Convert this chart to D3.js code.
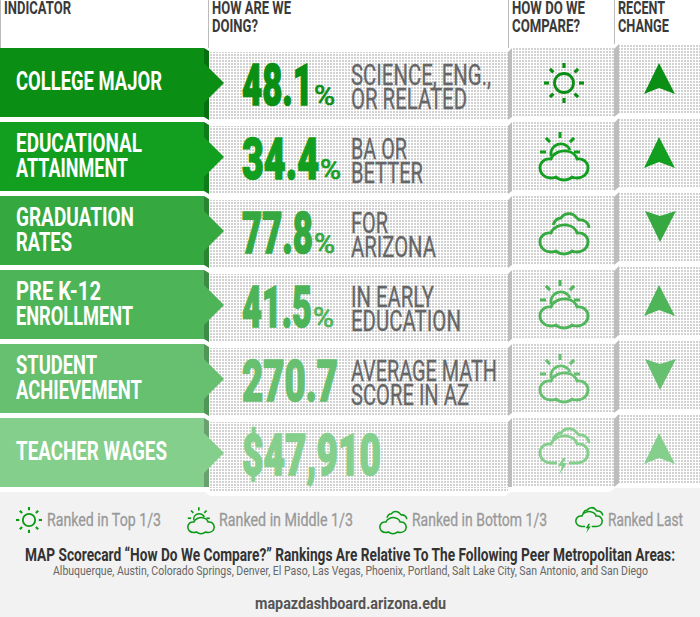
<!DOCTYPE html>
<html>
<head>
<meta charset="utf-8">
<script src="https://cdnjs.cloudflare.com/ajax/libs/d3/7.8.5/d3.min.js"></script>
<style>
  html, body { margin: 0; padding: 0; background: #fff; }
  svg { display: block; }
  text { font-family: "Liberation Sans Narrow", "Roboto", sans-serif; }
</style>
</head>
<body>
<div id="chart"></div>
<script>
// chart values
var indicators = ["College Major", "Educational Attainment", "Graduation Rates", "Pre K-12 Enrollment", "Student Achievement", "Teacher Wages"];
var indicatorLines = [["COLLEGE MAJOR"], ["EDUCATIONAL", "ATTAINMENT"], ["GRADUATION", "RATES"], ["PRE K-12", "ENROLLMENT"], ["STUDENT", "ACHIEVEMENT"], ["TEACHER WAGES"]];
var valueLabels = ["48.1", "34.4", "77.8", "41.5", "270.7", "$47,910"];
var valueUnits = ["%", "%", "%", "%", "", ""];
var descriptions = [["SCIENCE, ENG.,", "OR RELATED"], ["BA OR", "BETTER"], ["FOR", "ARIZONA"], ["IN EARLY", "EDUCATION"], ["AVERAGE MATH", "SCORE IN AZ"], []];
var ranks = ["top", "middle", "bottom", "middle", "middle", "last"];
var trends = ["up", "up", "down", "up", "down", "up"];
var headers = [["INDICATOR"], ["HOW ARE WE", "DOING?"], ["HOW DO WE", "COMPARE?"], ["RECENT", "CHANGE"]];
var legendRanks = ["top", "middle", "bottom", "last"];
var legendLabels = ["Ranked in Top 1/3", "Ranked in Middle 1/3", "Ranked in Bottom 1/3", "Ranked Last"];
var footTitle = "MAP Scorecard \u201cHow Do We Compare?\u201d Rankings Are Relative To The Following Peer Metropolitan Areas:";
var footCities = "Albuquerque, Austin, Colorado Springs, Denver, El Paso, Las Vegas, Phoenix, Portland, Salt Lake City, San Antonio, and San Diego";
var footUrl = "mapazdashboard.arizona.edu";

// widths the condensed original font gives each string
var textWidth = {
  "COLLEGE MAJOR": 146, "EDUCATIONAL": 126, "ATTAINMENT": 112, "GRADUATION": 118, "RATES": 56,
  "PRE K-12": 85, "ENROLLMENT": 117, "STUDENT": 81, "ACHIEVEMENT": 126, "TEACHER WAGES": 151,
  "48.1": 71, "34.4": 77, "77.8": 71, "41.5": 70, "270.7": 96, "$47,910": 139,
  "SCIENCE, ENG.,": 140, "OR RELATED": 116, "BA OR": 56, "BETTER": 72, "FOR": 37, "ARIZONA": 85,
  "IN EARLY": 83, "EDUCATION": 110, "AVERAGE MATH": 146, "SCORE IN AZ": 118,
  "INDICATOR": 67, "HOW ARE WE": 79, "DOING?": 46, "HOW DO WE": 73, "COMPARE?": 68, "RECENT": 47, "CHANGE": 51,
  "Ranked in Top 1/3": 114, "Ranked in Middle 1/3": 134, "Ranked in Bottom 1/3": 135, "Ranked Last": 75
};
textWidth[footTitle] = 650;
textWidth[footCities] = 595;
textWidth[footUrl] = 191;

var width = 700, height = 617;
var svg = d3.select("#chart").append("svg").attr("width", width).attr("height", height);

var rowY = d3.scaleBand().domain(indicators).range([48, 487]).paddingInner(5 / 74).paddingOuter(0);
var rowColor = d3.scaleOrdinal().domain(indicators)
  .range(["#0a8f14", "#129f20", "#35a93f", "#4db458", "#66c070", "#85cf8d"]);
var legendX = d3.scaleOrdinal().domain(legendRanks).range([29, 201, 393, 589]);
var legendTextX = d3.scaleOrdinal().domain(legendRanks).range([47, 219, 412, 608]);

var defs = svg.append("defs");
var dots = defs.append("pattern").attr("id", "dots").attr("patternUnits", "userSpaceOnUse")
  .attr("width", 3).attr("height", 3);
dots.append("rect").attr("width", 3).attr("height", 3).attr("fill", "#fff");
dots.append("rect").attr("width", 2).attr("height", 2).attr("fill", "#d2d2d2");

function put(g, str, x, y, size, weight, fill) {
  var t = g.append("text").attr("x", x).attr("y", y).attr("font-size", size)
    .attr("font-weight", weight).attr("fill", fill).text(str);
  if (textWidth[str]) t.attr("textLength", textWidth[str]).attr("lengthAdjust", "spacingAndGlyphs");
  return t;
}

// bottom panel, white lip under the table steps with the columns
svg.append("rect").attr("y", 488).attr("width", width).attr("height", height - 488).attr("fill", "#f2f2f2");

// header rules
[[0, 48], [208, 48], [508, 48], [614, 44]].forEach(function (r) {
  svg.append("line").attr("x1", r[0] + 0.5).attr("x2", r[0] + 0.5).attr("y1", 0).attr("y2", r[1])
    .attr("stroke", "#bbb").attr("stroke-width", 1);
});
var headerX = [4, 212, 512, 618];
headers.forEach(function (lines, i) {
  lines.forEach(function (s, j) {
    put(svg, s, headerX[i], 14 + j * 18, 18, "bold", "#3a3a3a");
  });
});

// icons are centred on 0,0 and scaled by the caller
var cloudPath = "M-13,13 C-20,13 -24,8 -24,3 C-24,-3 -19,-7 -13,-6 C-11,-12 -3,-15 3,-14 C8,-13 12,-10 13,-6 C19,-7 24,-3 24,3 C24,9 19,13 13,13 C11,13 10,13 8,12 C4,16 -4,16 -8,12 C-10,13 -11,13 -13,13 Z";
var lastCloudPath = "M-7,13 L-13,13 C-20,13 -24,8 -24,3 C-24,-3 -19,-7 -13,-6 C-11,-12 -3,-15 3,-14 C8,-13 12,-10 13,-6 C19,-7 24,-3 24,3 C24,9 19,13 13,13 L5,13";
var backCloudPath = "M-11,-6 C-9,-11 -6,-13 -3,-13 C0,-18 8,-19 12,-14 L15,-11 C20,-12 25,-8 25,-3";

function rays(g, cx, cy, r0, r1, angles) {
  angles.forEach(function (a) {
    var c = Math.cos(a * Math.PI / 180), s = Math.sin(a * Math.PI / 180);
    g.append("line").attr("x1", cx + c * r0).attr("y1", cy + s * r0)
      .attr("x2", cx + c * r1).attr("y2", cy + s * r1);
  });
}

function drawIcon(g, rank, color) {
  g.attr("fill", "none").attr("stroke", color).attr("stroke-width", 2.8);
  if (rank === "top") {
    g.append("circle").attr("r", 9.5);
    var sun = g.append("g").attr("stroke-width", 3.2);
    rays(sun, 0, 0, 15, 20, [0, 45, 90, 135, 180, 225, 270, 315]);
  } else if (rank === "middle") {
    g.append("path").attr("d", "M-13,-1 A10,10 0 0 1 6,-7");
    var sm = g.append("g").attr("stroke-width", 3);
    rays(sm, -4, -5, 14, 20, [180, 225, 270, 315, 360]);
    g.append("path").attr("d", cloudPath).attr("transform", "translate(0,8)");
  } else if (rank === "bottom") {
    g.append("path").attr("d", backCloudPath);
    g.append("path").attr("d", cloudPath).attr("transform", "translate(0,8)");
  } else {
    g.append("path").attr("d", backCloudPath).attr("transform", "translate(0,-7)");
    g.append("path").attr("d", lastCloudPath).attr("transform", "translate(0,-3)");
    g.append("path").attr("fill", color).attr("stroke", "none")
      .attr("d", "M-1,5 L-6,13 L-2,13 L-5,22 L3,10 L-1,10 L2,5 Z");
  }
}

// rows
var rows = svg.selectAll(".row").data(indicators).enter().append("g").attr("class", "row")
  .attr("transform", function (d) { return "translate(0," + rowY(d) + ")"; });

rows.each(function (d, i) {
  var g = d3.select(this), h = rowY.bandwidth(), color = rowColor(d);

  // dotted cells
  g.append("rect").attr("x", 209).attr("y", 4).attr("width", 299).attr("height", h - 1).attr("fill", "url(#dots)");
  g.append("rect").attr("x", 512).attr("y", 0).attr("width", 102).attr("height", h).attr("fill", "url(#dots)");
  g.append("rect").attr("x", 619).attr("y", -4).attr("width", 81).attr("height", h).attr("fill", "url(#dots)");

  // grey folds between the cells
  g.append("path").attr("d", "M508,4 L512,0 L512,69 L508,72 Z").attr("fill", "#bdbdbd");
  g.append("path").attr("d", "M614,1 L619,-4 L619,65 L614,69 Z").attr("fill", "#bdbdbd");

  // green bar, its darker fold and the pointer
  g.append("path").attr("d", "M204,0 L209,3 L209,72 L204,69 Z").attr("fill", d3.color(color).darker(0.7));
  g.append("rect").attr("width", 204).attr("height", h).attr("fill", color);
  g.append("path").attr("fill", color).attr("d", "M204,15 L224,35 L204,55 Z");

  // indicator name
  var lines = indicatorLines[i];
  lines.forEach(function (s, j) {
    var y = lines.length === 1 ? 42 : 30 + j * 25;
    put(g, s, 16, y, 25, "bold", "#fff");
  });

  // value and unit
  put(g, valueLabels[i], 242, 57, 58, 900, color).attr("stroke", color).attr("stroke-width", 1.6);
  if (valueUnits[i]) {
    put(g, valueUnits[i], 242 + textWidth[valueLabels[i]] + 1, 57, 28, "normal", color)
      .attr("stroke", color).attr("stroke-width", 0.7)
      .attr("textLength", 21).attr("lengthAdjust", "spacingAndGlyphs");
  }

  // description
  descriptions[i].forEach(function (s, j) {
    put(g, s, 351, 37 + j * 24, 29, "normal", "#666").attr("stroke", "#666").attr("stroke-width", 0.3);
  });

  // rank icon
  drawIcon(g.append("g").attr("transform", "translate(564,35)"), ranks[i], color);

  // recent change arrow
  var arrow = trends[i] === "up"
    ? "M659,15 L675,46 L659,40 L644,46 Z"
    : "M645,15 L660,20 L676,15 L660,46 Z";
  g.append("path").attr("d", arrow).attr("fill", color);
});

// white lip closing the table
svg.append("path").attr("fill", "#fff")
  .attr("d", "M0,487 L615,487 L615,488 L610,492 L510,492 L505,496 L210,496 L205,492 L0,492 Z");
svg.append("rect").attr("x", 209).attr("y", 487).attr("width", 299).attr("height", 4).attr("fill", "url(#dots)");

// legend
legendRanks.forEach(function (r, i) {
  var s = r === "top" ? 0.65 : 0.55;
  var dy = r === "top" ? 520 : 521;
  drawIcon(svg.append("g").attr("transform", "translate(" + legendX(r) + "," + dy + ") scale(" + s + ")"), r, "#0a9a14");
  put(svg, legendLabels[i], legendTextX(r), 526, 18, "normal", "#999").attr("stroke", "#999").attr("stroke-width", 0.3);
});

// footer
put(svg, footTitle, 25, 561, 18, "bold", "#333");
put(svg, footCities, 53, 575, 12.5, "normal", "#666");
put(svg, footUrl, 255, 609, 16, "bold", "#555");
</script>
</body>
</html>
